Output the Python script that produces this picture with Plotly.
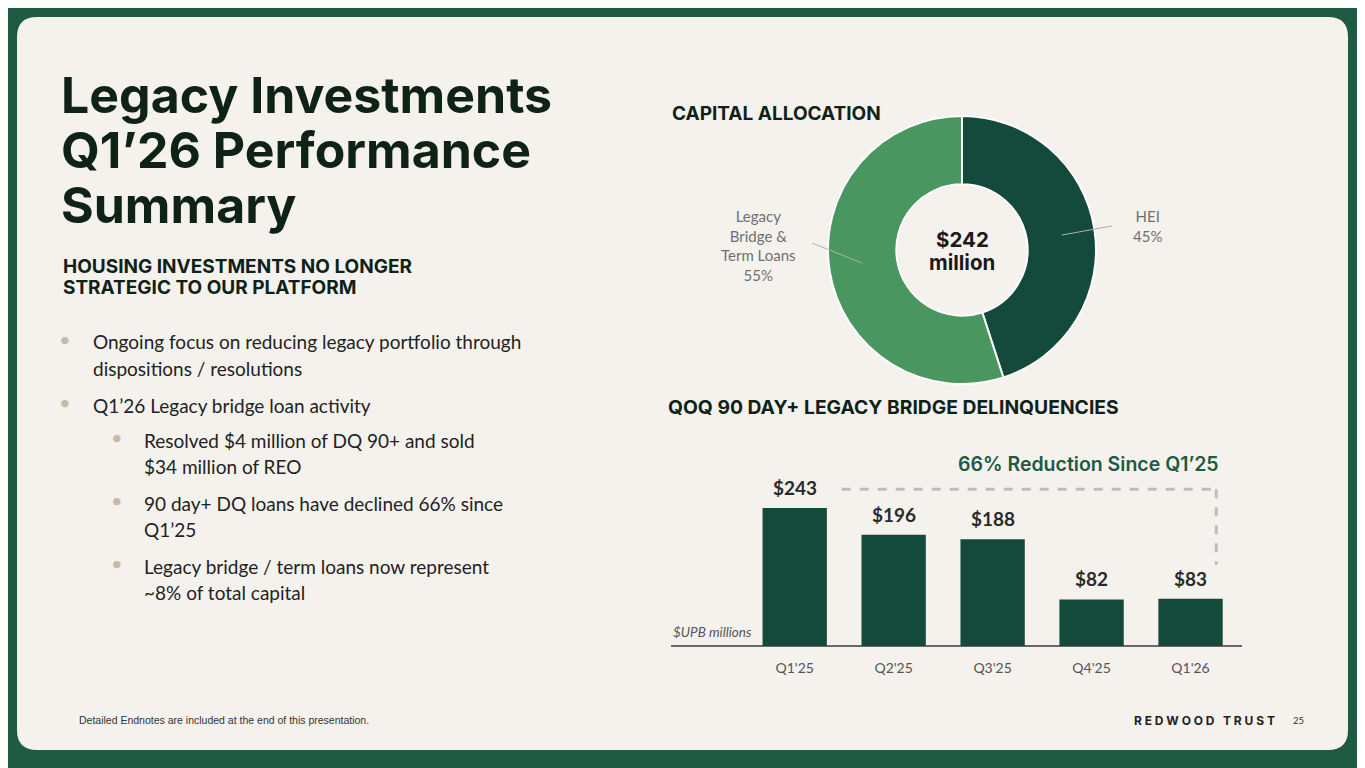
import plotly.graph_objects as go

# ---------- data ----------
alloc_labels = ['HEI', 'Legacy Bridge & Term Loans']
alloc_values = [45, 55]
alloc_total = '$242'

quarters = ["Q1'25", "Q2'25", "Q3'25", "Q4'25", "Q1'26"]
dq_values = [243, 196, 188, 82, 83]
reduction_pct = 66

W, H = 1365, 768
OFF = 8  # page body margin in the browser
BG = '#1f5a43'
CARD = '#f5f2ee'
DARK = '#134a3b'
LIGHT = '#4a9660'
INK = '#0f2218'
HEAD = 'Inter'
BODY = 'Lato'


def px(x):
    return (x - OFF) / W


def py(y):
    return 1 - (y - OFF) / H


fig = go.Figure()

# donut
fig.add_trace(go.Pie(
    labels=alloc_labels, values=alloc_values, hole=0.49, sort=False,
    direction='clockwise', rotation=0,
    marker=dict(colors=[DARK, LIGHT], line=dict(color='white', width=2)),
    textinfo='none', hoverinfo='label+percent', showlegend=False,
    domain=dict(x=[px(828), px(1096)], y=[py(384), py(116)]),
))

# bars
fig.add_trace(go.Bar(
    x=quarters, y=dq_values, width=0.65, marker=dict(color=DARK, line=dict(width=0)),
    showlegend=False, hoverinfo='x+y',
))

fig.update_layout(
    width=W, height=H, margin=dict(l=0, r=0, t=0, b=0),
    paper_bgcolor=BG, plot_bgcolor='rgba(0,0,0,0)',
    xaxis=dict(domain=[px(671), px(1242)], range=[-1.25, 4.52], type='category',
               showgrid=False, zeroline=False, showline=False, ticks='',
               ticklabelstandoff=12,
               tickfont=dict(family=BODY, size=14, color='#555555')),
    yaxis=dict(domain=[py(646), py(450)], range=[0, 345], visible=False),
)

shapes = []
# card with rounded corners
x0, x1, y0, y1 = px(17), px(1348), py(750), py(17)
rx, ry = 20 / W, 20 / H
card_path = (f'M {x0+rx},{y1} L {x1-rx},{y1} Q {x1},{y1} {x1},{y1-ry} '
             f'L {x1},{y0+ry} Q {x1},{y0} {x1-rx},{y0} L {x0+rx},{y0} '
             f'Q {x0},{y0} {x0},{y0+ry} L {x0},{y1-ry} Q {x0},{y1} {x0+rx},{y1} Z')
shapes.append(dict(type='path', xref='paper', yref='paper', path=card_path,
                   fillcolor=CARD, line=dict(width=0), layer='below'))

# axis baseline
shapes.append(dict(type='line', xref='paper', yref='paper', x0=px(671), x1=px(1242),
                   y0=py(646), y1=py(646), line=dict(color='#3a3a3a', width=1.6)))

# dashed bracket from Q1'25 level to Q1'26 bar
top_y = dq_values[0] + 33
shapes.append(dict(type='line', xref='x', yref='y', x0=0.475, x1=4.26, y0=top_y, y1=top_y,
                   line=dict(color='#bdbdbd', width=3, dash='dash')))
shapes.append(dict(type='line', xref='x', yref='y', x0=4.26, x1=4.26, y0=top_y,
                   y1=dq_values[-1] + 60, line=dict(color='#bdbdbd', width=3, dash='dash')))

# donut leader lines
shapes.append(dict(type='line', xref='paper', yref='paper', x0=px(1062), y0=py(235),
                   x1=px(1112), y1=py(226), line=dict(color='#a7b5ad', width=1)))
shapes.append(dict(type='line', xref='paper', yref='paper', x0=px(812), y0=py(243),
                   x1=px(862), y1=py(263), line=dict(color='#a7b5ad', width=1)))

ann = []


def text(x, y, s, size, color=INK, family=BODY, weight='normal', xanchor='left',
         style='normal'):
    ann.append(dict(xref='paper', yref='paper', x=px(x), y=py(y), text=s, showarrow=False,
                    xanchor=xanchor, yanchor='middle', align=xanchor if xanchor != 'center' else 'center',
                    font=dict(family=family, size=size, color=color, weight=weight, style=style)))


# title
for i, line in enumerate(['Legacy Investments', 'Q1\u201926 Performance', 'Summary']):
    text(59, 95 + i * 55, line, 50, INK, HEAD, 'bold')

text(61, 267, 'HOUSING INVESTMENTS NO LONGER', 19, INK, HEAD, 'bold')
text(61, 288, 'STRATEGIC TO OUR PLATFORM', 19, INK, HEAD, 'bold')

# bullets
bullets = [
    (0, ['Ongoing focus on reducing legacy portfolio through', 'dispositions / resolutions'], 342),
    (0, ['Q1\u201926 Legacy bridge loan activity'], 405),
    (1, ['Resolved $4 million of DQ 90+ and sold', '$34 million of REO'], 440),
    (1, ['90 day+ DQ loans have declined 66% since', 'Q1\u201925'], 503),
    (1, ['Legacy bridge / term loans now represent', '~8% of total capital'], 566),
]
for level, lines, y in bullets:
    bx = 65 if level == 0 else 117
    tx = 91 if level == 0 else 142
    text(bx, y - 3, '\u2022', 20, '#c9b9a7', BODY, xanchor='center')
    for j, line in enumerate(lines):
        text(tx, y + j * 26.5, line, 19, '#222222', BODY)

# section headings
text(670, 113, 'CAPITAL ALLOCATION', 19, INK, HEAD, 'bold')
text(666, 407, 'QOQ 90 DAY+ LEGACY BRIDGE DELINQUENCIES', 19.3, INK, HEAD, 'bold')

# donut labels
text(1147, 226, f'{alloc_labels[0]}<br>{alloc_values[0]}%', 15, '#707070', BODY, xanchor='center')
text(758, 245, f'Legacy<br>Bridge &<br>Term Loans<br>{alloc_values[1]}%', 15, '#707070', BODY,
     xanchor='center')
text(962, 239, alloc_total, 20.5, '#1a1a1a', HEAD, 'bold', xanchor='center')
text(962, 262, 'million', 20.5, '#1a1a1a', HEAD, 'bold', xanchor='center')

# bar value labels
for q, v in zip(quarters, dq_values):
    ann.append(dict(xref='x', yref='y', x=q, y=v, text=f'${v}', showarrow=False,
                    yanchor='bottom', yshift=7,
                    font=dict(family=BODY, size=19, color='#2a2a2a', weight='bold')))

ann.append(dict(xref='x', yref='y', x=4.31, y=top_y + 44, text=f'{reduction_pct}% Reduction Since Q1\u201925',
                showarrow=False, xanchor='right', yanchor='middle',
                font=dict(family=HEAD, size=19.5, color='#1d5a43', weight=600)))

text(671, 632, '$UPB millions', 13.5, '#555555', BODY, style='italic')

# footer
text(77, 720, 'Detailed Endnotes are included at the end of this presentation.', 10.5, '#333333',
     'Liberation Sans')
text(1277, 720, 'R&nbsp;E&nbsp;D&nbsp;W&nbsp;O&nbsp;O&nbsp;D &nbsp; T&nbsp;R&nbsp;U&nbsp;S&nbsp;T',
     12, '#222222', HEAD, 'bold', xanchor='right')
text(1298, 720, '25', 9.5, '#333333', BODY, xanchor='center')

fig.update_layout(shapes=shapes, annotations=ann)
fig.write_html('out.html')
